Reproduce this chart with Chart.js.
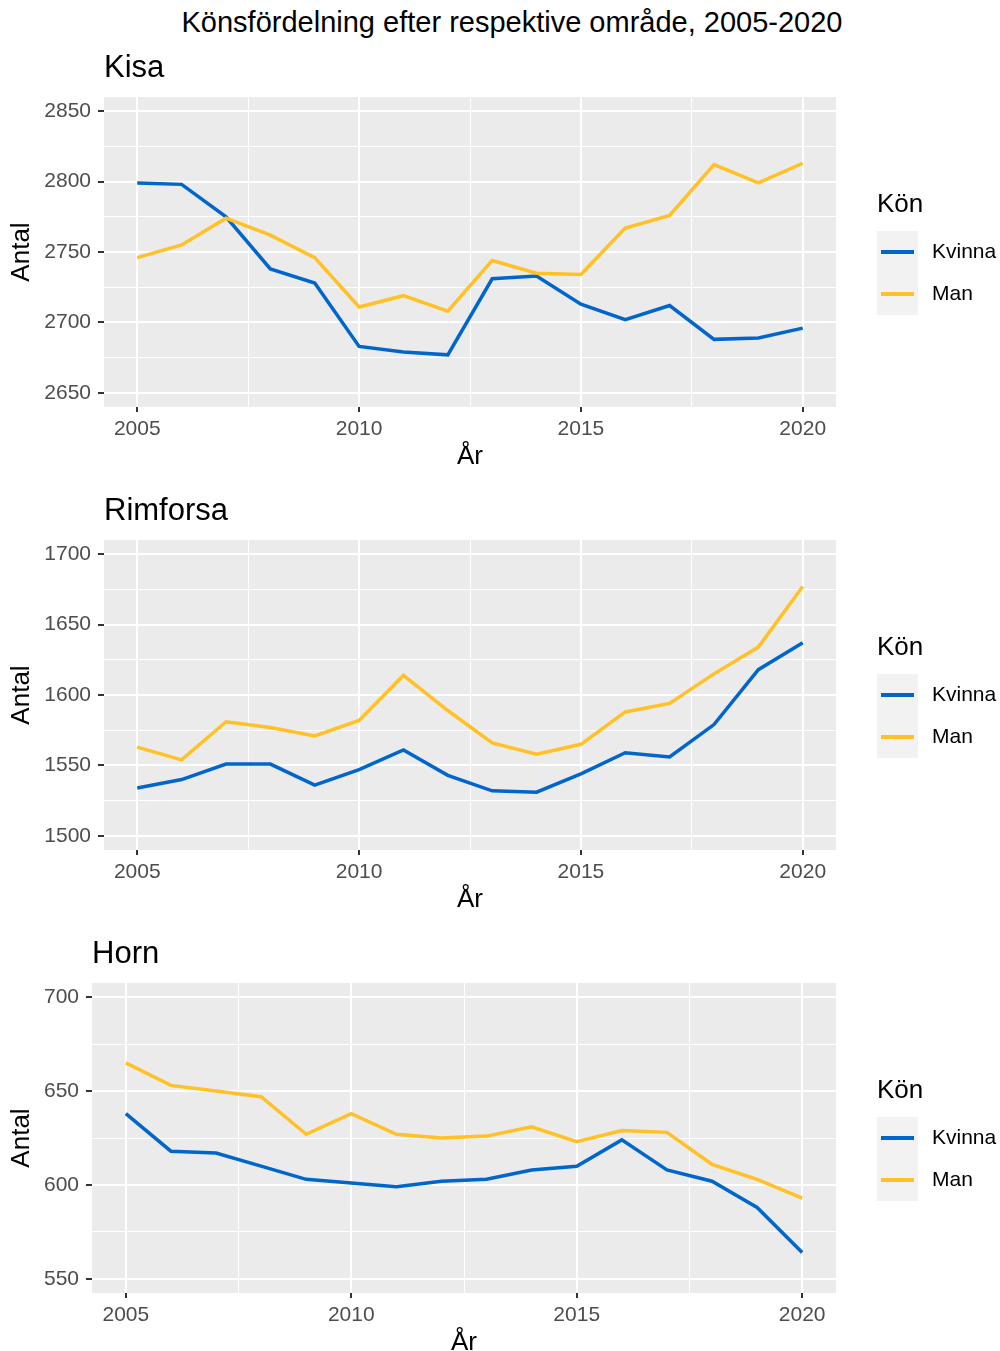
<!DOCTYPE html>
<html>
<head>
<meta charset="utf-8">
<script src="https://cdn.jsdelivr.net/npm/chart.js@4.4.1/dist/chart.umd.min.js"></script>
<style>
  body { margin: 0; background: #fff; font-family: "Liberation Sans", Arial, sans-serif; }
  #title { position: absolute; left: 0; top: 0; width: 1024px; text-align: center;
           font-size: 29px; line-height: 44px; color: #000; }
  canvas { position: absolute; left: 0; }
</style>
</head>
<body>
<div id="title">Könsfördelning efter respektive område, 2005-2020</div>
<canvas id="kisa" width="1000" height="443" style="top:40px"></canvas>
<canvas id="rimforsa" width="1000" height="443" style="top:483px"></canvas>
<canvas id="horn" width="1000" height="443" style="top:926px"></canvas>
<script>
'use strict';

// data
const years = [2005, 2006, 2007, 2008, 2009, 2010, 2011, 2012, 2013, 2014, 2015, 2016, 2017, 2018, 2019, 2020];
const seriesNames = ['Kvinna', 'Man'];

const kisaKvinna = [2799, 2798, 2775, 2738, 2728, 2683, 2679, 2677, 2731, 2733, 2713, 2702, 2712, 2688, 2689, 2696];
const kisaMan    = [2746, 2755, 2774, 2762, 2746, 2711, 2719, 2708, 2744, 2735, 2734, 2767, 2776, 2812, 2799, 2813];

const rimKvinna  = [1534, 1540, 1551, 1551, 1536, 1547, 1561, 1543, 1532, 1531, 1544, 1559, 1556, 1579, 1618, 1637];
const rimMan     = [1563, 1554, 1581, 1577, 1571, 1582, 1614, 1589, 1566, 1558, 1565, 1588, 1594, 1615, 1634, 1677];

const hornKvinna = [638, 618, 617, 610, 603, 601, 599, 602, 603, 608, 610, 624, 608, 602, 588, 564];
const hornMan    = [665, 653, 650, 647, 627, 638, 627, 625, 626, 631, 623, 629, 628, 611, 603, 593];

// tick labels and axis ranges
const xTicks = [2005, 2010, 2015, 2020];
const xRange = [2004.25, 2020.75];
const kisaTicks = [2650, 2700, 2750, 2800, 2850];
const kisaRange = [2640, 2860];
const rimTicks = [1500, 1550, 1600, 1650, 1700];
const rimRange = [1490, 1710];
const hornTicks = [550, 600, 650, 700];
const hornRange = [542.5, 707.5];

const FONT = '"Liberation Sans", Arial, sans-serif';
const colors = ['#0066CC', '#FFC125'];

// majors plus the minor lines halfway between them
function withMinors(major) {
    let out = [];
    for (let i = 0; i < major.length; i++) {
        out.push({ value: major[i], major: true });
        if (i < major.length - 1) out.push({ value: (major[i] + major[i + 1]) / 2, major: false });
    }
    return out;
}

function isMajor(ctx) {
    return ctx.tick && ctx.tick.major;
}

const panelBg = {
    id: 'panelBg',
    beforeDraw(chart) {
        const a = chart.chartArea, ctx = chart.ctx;
        ctx.save();
        ctx.fillStyle = '#EBEBEB';
        ctx.fillRect(a.left, a.top, a.right - a.left, a.bottom - a.top);
        ctx.restore();
    }
};

const konLegend = {
    id: 'konLegend',
    afterDraw(chart) {
        const a = chart.chartArea, ctx = chart.ctx;
        const mid = (a.top + a.bottom) / 2;
        const x0 = a.right + 41;
        ctx.save();
        ctx.textBaseline = 'middle';
        ctx.textAlign = 'left';
        ctx.fillStyle = '#000';
        ctx.font = '26px ' + FONT;
        ctx.fillText('Kön', x0, mid - 47);
        ctx.fillStyle = '#F2F2F2';
        ctx.fillRect(x0, mid - 21, 41, 84);
        chart.data.datasets.forEach(function (ds, i) {
            const y = mid + i * 42;
            ctx.strokeStyle = ds.borderColor;
            ctx.lineWidth = 4;
            ctx.beginPath();
            ctx.moveTo(x0 + 4, y);
            ctx.lineTo(x0 + 37, y);
            ctx.stroke();
            ctx.fillStyle = '#000';
            ctx.font = '21px ' + FONT;
            ctx.fillText(ds.label, x0 + 55, y);
        });
        ctx.restore();
    }
};

function makeChart(id, name, kvinna, man, yTicks, yRange, yWidth) {
    const panelTitle = {
        id: 'panelTitle',
        afterDraw(chart) {
            const a = chart.chartArea, ctx = chart.ctx;
            ctx.save();
            ctx.fillStyle = '#000';
            ctx.font = '31px ' + FONT;
            ctx.textBaseline = 'middle';
            ctx.textAlign = 'left';
            ctx.fillText(name, a.left, a.top - 29);
            ctx.restore();
        }
    };
    const series = [kvinna, man];
    return new Chart(document.getElementById(id), {
        type: 'line',
        data: {
            datasets: series.map(function (vals, i) {
                return {
                    label: seriesNames[i],
                    data: years.map(function (yr, j) { return { x: yr, y: vals[j] }; }),
                    borderColor: colors[i],
                    borderWidth: 3.5,
                    pointRadius: 0,
                    tension: 0,
                    order: -i
                };
            })
        },
        options: {
            responsive: false,
            animation: false,
            events: [],
            layout: { padding: { top: 57, right: 164, left: 0, bottom: 0 } },
            plugins: { legend: { display: false }, tooltip: { enabled: false } },
            scales: {
                x: {
                    type: 'linear',
                    min: xRange[0], max: xRange[1],
                    afterBuildTicks: function (s) { s.ticks = withMinors(xTicks); },
                    afterFit: function (s) { s.height = 76; },
                    border: { display: false },
                    grid: {
                        color: '#FFFFFF',
                        lineWidth: function (c) { return isMajor(c) ? 2 : 1; },
                        drawTicks: true,
                        tickLength: 5,
                        tickWidth: 2,
                        tickColor: function (c) { return isMajor(c) ? '#333333' : 'rgba(0,0,0,0)'; }
                    },
                    ticks: {
                        autoSkip: false, maxRotation: 0, padding: 5,
                        color: '#4D4D4D', font: { family: FONT, size: 21 },
                        callback: function (v, i, t) { return t[i].major ? String(v) : ''; }
                    },
                    title: { display: true, text: 'År', color: '#000',
                             font: { family: FONT, size: 26 }, padding: { top: 0, bottom: 11 } }
                },
                y: {
                    type: 'linear',
                    min: yRange[0], max: yRange[1],
                    afterBuildTicks: function (s) { s.ticks = withMinors(yTicks); },
                    afterFit: function (s) { s.width = yWidth; },
                    border: { display: false },
                    grid: {
                        color: '#FFFFFF',
                        lineWidth: function (c) { return isMajor(c) ? 2 : 1; },
                        drawTicks: true,
                        tickLength: 6,
                        tickWidth: 2,
                        tickColor: function (c) { return isMajor(c) ? '#333333' : 'rgba(0,0,0,0)'; }
                    },
                    ticks: {
                        autoSkip: false, padding: 7,
                        color: '#4D4D4D', font: { family: FONT, size: 21 },
                        callback: function (v, i, t) { return t[i].major ? String(v) : ''; }
                    },
                    title: { display: true, text: 'Antal', color: '#000',
                             font: { family: FONT, size: 26 }, padding: { top: 6, bottom: 0 } }
                }
            }
        },
        plugins: [panelBg, panelTitle, konLegend]
    });
}

makeChart('kisa', 'Kisa', kisaKvinna, kisaMan, kisaTicks, kisaRange, 104);
makeChart('rimforsa', 'Rimforsa', rimKvinna, rimMan, rimTicks, rimRange, 104);
makeChart('horn', 'Horn', hornKvinna, hornMan, hornTicks, hornRange, 92);
</script>
</body>
</html>
